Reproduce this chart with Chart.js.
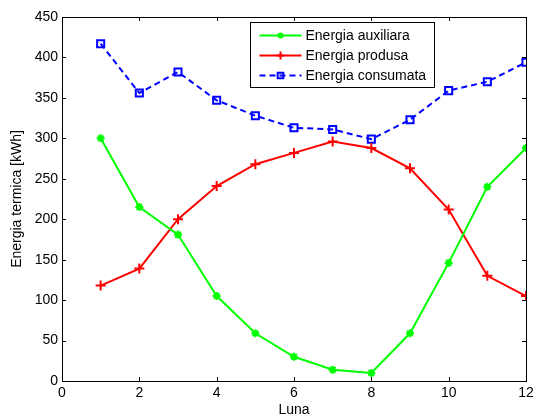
<!DOCTYPE html>
<html>
<head>
<meta charset="utf-8">
<script src="https://cdn.jsdelivr.net/npm/chart.js@4/dist/chart.umd.min.js"></script>
<style>
  html, body { margin: 0; padding: 0; background: #fff; }
  #wrap { width: 533px; height: 417px; }
</style>
</head>
<body>
<div id="wrap"><canvas id="chart" width="533" height="417"></canvas></div>
<script>
var months = [1, 2, 3, 4, 5, 6, 7, 8, 9, 10, 11, 12];
var auxiliara = [300, 215, 181, 105, 59, 30, 14, 10, 59, 146, 240, 288];
var produsa = [118, 139, 200, 241, 268, 282, 296, 288, 263, 212, 130, 105];
var consumata = [417, 356, 382, 347, 328, 313, 311, 299, 323, 359, 370, 394];

function pts(ys) {
    return months.map(function (m, i) { return { x: m, y: ys[i] }; });
}

var font = "'Liberation Sans', Arial, sans-serif";

// matlab style box, inward ticks and legend inside the axes
var matlabBox = {
    id: 'matlabBox',
    afterDraw: function (chart) {
        var ctx = chart.ctx;
        var a = chart.chartArea;
        var xs = chart.scales.x, ys = chart.scales.y;
        ctx.save();
        ctx.strokeStyle = '#000';
        ctx.lineWidth = 1;
        ctx.beginPath();
        xs.ticks.forEach(function (t) {
            var px = Math.round(xs.getPixelForValue(t.value)) + 0.5;
            ctx.moveTo(px, a.bottom); ctx.lineTo(px, a.bottom - 4);
            ctx.moveTo(px, a.top); ctx.lineTo(px, a.top + 4);
        });
        ys.ticks.forEach(function (t) {
            var py = Math.round(ys.getPixelForValue(t.value)) + 0.5;
            ctx.moveTo(a.left, py); ctx.lineTo(a.left + 4, py);
            ctx.moveTo(a.right, py); ctx.lineTo(a.right - 4, py);
        });
        ctx.stroke();
        ctx.strokeRect(Math.round(a.left) + 0.5, Math.round(a.top) + 0.5,
            Math.round(a.right - a.left), Math.round(a.bottom - a.top));

        // legend
        var lx = 250.5, ly = 22.5, lw = 184, lh = 65;
        ctx.fillStyle = '#fff';
        ctx.fillRect(lx, ly, lw, lh);
        ctx.strokeRect(lx, ly, lw, lh);
        ctx.font = '14px ' + font;
        ctx.textBaseline = 'middle';
        chart.data.datasets.forEach(function (ds, i) {
            var cy = ly + 13 + i * 20;
            ctx.strokeStyle = ds.borderColor;
            ctx.lineWidth = ds.borderWidth;
            ctx.setLineDash(ds.borderDash || []);
            ctx.beginPath();
            ctx.moveTo(lx + 9, cy); ctx.lineTo(lx + 51, cy);
            ctx.stroke();
            ctx.setLineDash([]);
            ctx.fillStyle = ds.pointBackgroundColor || ds.borderColor;
            ctx.lineWidth = ds.pointBorderWidth;
            Chart.helpers.drawPoint(ctx, {
                pointStyle: ds.pointStyle,
                radius: ds.pointRadius - 1,
                borderWidth: ds.pointBorderWidth,
                rotation: 0
            }, lx + 30, cy);
            ctx.fillStyle = '#000';
            ctx.fillText(ds.label, lx + 55, cy + 1);
        });
        ctx.restore();
    }
};

new Chart(document.getElementById('chart'), {
    type: 'line',
    data: {
        datasets: [{
            label: 'Energia auxiliara',
            data: pts(auxiliara),
            borderColor: '#00ff00',
            backgroundColor: '#00ff00',
            borderWidth: 2,
            pointStyle: 'star',
            pointRadius: 4,
            pointBorderWidth: 2,
            pointBorderColor: '#00ff00'
        }, {
            label: 'Energia produsa',
            data: pts(produsa),
            borderColor: '#ff0000',
            backgroundColor: '#ff0000',
            borderWidth: 2,
            pointStyle: 'cross',
            pointRadius: 5,
            pointBorderWidth: 2,
            pointBorderColor: '#ff0000'
        }, {
            label: 'Energia consumata',
            data: pts(consumata),
            borderColor: '#0000ff',
            backgroundColor: 'rgba(0,0,0,0)',
            borderWidth: 2,
            borderDash: [6, 4],
            pointStyle: 'rect',
            pointRadius: 5,
            pointBorderWidth: 2,
            pointBorderColor: '#0000ff',
            pointBackgroundColor: 'rgba(0,0,0,0)'
        }]
    },
    options: {
        responsive: false,
        animation: false,
        layout: { padding: { top: 17, right: 6, left: 0, bottom: 0 } },
        plugins: { legend: { display: false }, tooltip: { enabled: false } },
        scales: {
            x: {
                type: 'linear',
                min: 0, max: 12,
                grid: { display: false, drawTicks: false, tickLength: 0 },
                border: { display: false },
                ticks: { stepSize: 2, color: '#000', font: { family: font, size: 14 }, padding: 4 },
                title: { display: true, text: 'Luna', color: '#000', font: { family: font, size: 14, lineHeight: 1 }, padding: 0 },
                afterFit: function (s) { s.height = 36; s.paddingLeft = 0; s.paddingRight = 0; }
            },
            y: {
                min: 0, max: 450,
                grid: { display: false, drawTicks: false, tickLength: 0 },
                border: { display: false },
                ticks: { stepSize: 50, color: '#000', font: { family: font, size: 14 }, padding: 4 },
                title: { display: true, text: 'Energia termica [kWh]', color: '#000', font: { family: font, size: 14 }, padding: { top: 9, bottom: 0 } },
                afterFit: function (s) { s.width = 62; s.paddingTop = 0; s.paddingBottom = 0; }
            }
        }
    },
    plugins: [matlabBox]
});
</script>
</body>
</html>
